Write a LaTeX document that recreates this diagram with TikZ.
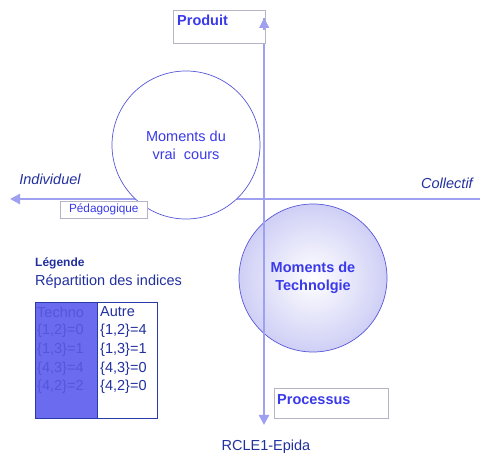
\documentclass[tikz,border=0pt]{standalone}
\usepackage{fontspec}
\setmainfont{Liberation Sans}
\usetikzlibrary{arrows.meta}
\definecolor{axiscol}{HTML}{A0A0F0}
\definecolor{darkblue}{HTML}{22309E}
\definecolor{bluetext}{HTML}{3A3AEA}
\definecolor{circedge}{HTML}{5858D8}
\definecolor{boxedge}{HTML}{B4B4C4}
\definecolor{techfill}{HTML}{6B6BEF}
\definecolor{techtext}{HTML}{5555DD}
\definecolor{tabedge}{HTML}{2A3AA8}
\definecolor{shadeout}{HTML}{CFCFF6}
\tikzset{
  axis/.style={draw=axiscol, line width=2.6pt, -{Triangle[width=10pt,length=10pt,fill=axiscol]}},
  tagbox/.style={draw=boxedge, fill=white, line width=0.6pt, inner sep=0pt},
  big/.style={font=\fontsize{14.5}{18}\selectfont},
  tabtxt/.style={font=\fontsize{14.5}{18}\selectfont, anchor=west, inner sep=0pt},
  bubble/.style={circle, draw=circedge, line width=0.7pt, minimum size=148pt, inner sep=0pt, align=center}
}
\begin{document}
\begin{tikzpicture}[x=1pt,y=-1pt]
\useasboundingbox (0,0) rectangle (480,457);
% axes coordinates
\coordinate (hright) at (480,199);
\coordinate (hleft) at (10,199);
\coordinate (vbot) at (264,425);
\coordinate (vtop) at (264,18);
\coordinate (vlow) at (264,205);
% horizontal axis
\draw[axis] (hright) -- (hleft);
% circle 1
\node[bubble, fill=white, text=bluetext, big] (c1) at (186,145) {Moments du\\vrai\ \ cours};
% circle 2
\node[bubble, inner color=white, outer color=shadeout, text=bluetext, font=\fontsize{14.5}{18}\selectfont\bfseries] (c2) at (313,278) {Moments de\\Technolgie};
% vertical axis (both ends)
\draw[axis] (vlow) -- (vtop);
\draw[axis] (vlow) -- (vbot);
% label boxes
\node[tagbox, minimum width=92pt, minimum height=33pt, anchor=north west] (prodbox) at (173,10) {};
\node[text=bluetext, font=\fontsize{14.5}{18}\selectfont\bfseries, anchor=west, inner sep=0pt] (prod) at (177,20) {Produit};
\draw[draw=axiscol, line width=2.6pt] (264,30) -- (vtop);
\fill[axiscol] (259,28) -- (264,18) -- (269,28) -- cycle;
\node[tagbox, minimum width=114pt, minimum height=30pt, anchor=north west] (procbox) at (274,388) {};
\node[text=bluetext, font=\fontsize{14.5}{18}\selectfont\bfseries, anchor=west, inner sep=0pt] (proc) at (277,400) {Processus};
\node[tagbox, minimum width=87pt, minimum height=17pt, anchor=north west, text=bluetext, font=\fontsize{11.8}{14}\selectfont] (peda) at (60,201) {Pédagogique};
% axis labels
\node[text=darkblue, font=\fontsize{14.5}{18}\selectfont\itshape] (indiv) at (50,179) {Individuel};
\node[text=darkblue, font=\fontsize{14.5}{18}\selectfont\itshape] (coll) at (447,183) {Collectif};
\node[text=darkblue, big] (rcle) at (266,447) {RCLE1-Epida};
% legend
\node[text=darkblue, font=\fontsize{12}{14}\selectfont\bfseries, anchor=west, inner sep=0pt] (leg) at (35,263) {Légende};
\node[text=darkblue, tabtxt] (rep) at (35,282) {Répartition des indices};
\node[draw=none, fill=techfill, minimum width=62pt, minimum height=116pt, anchor=north west, inner sep=0pt] (techcol) at (35,302) {};
\node[draw=tabedge, line width=0.8pt, minimum width=122pt, minimum height=116pt, anchor=north west, inner sep=0pt] (tab) at (35,302) {};
\draw[tabedge, line width=0.8pt] (techcol.north east) -- (techcol.south east);
\foreach \t [count=\i] in {Techno,{\{1,2\}=0},{\{1,3\}=1},{\{4,3\}=4},{\{4,2\}=2}}
  \node[tabtxt, text=techtext] (tl\i) at (37,{312+18.8*(\i-1)}) {\t};
\foreach \t [count=\i] in {Autre,{\{1,2\}=4},{\{1,3\}=1},{\{4,3\}=0},{\{4,2\}=0}}
  \node[tabtxt, text=darkblue] (tr\i) at (100,{312+18.8*(\i-1)}) {\t};
\end{tikzpicture}
\end{document}
